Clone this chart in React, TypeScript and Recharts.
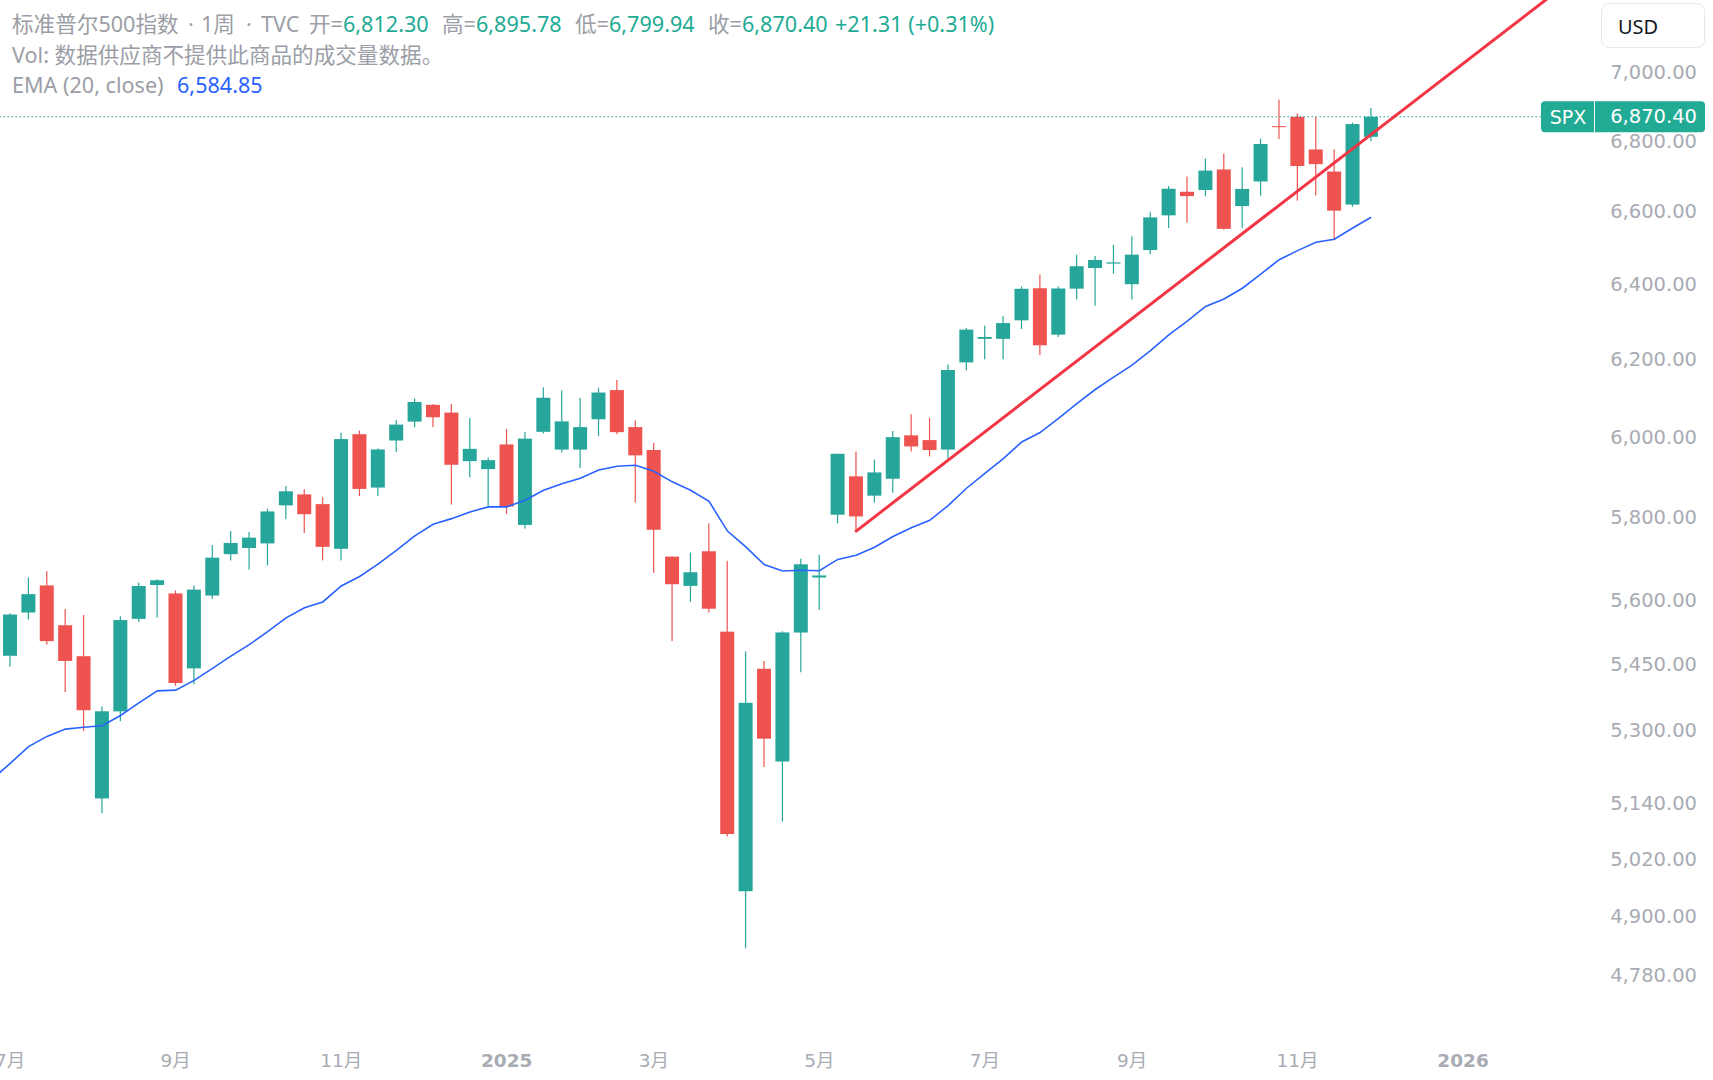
import React from 'react';
import {
  ComposedChart,
  Bar,
  Line,
  XAxis,
  YAxis,
  ReferenceLine,
} from 'recharts';

// Weekly bars of the S&P 500 index (TVC:SPX), one per week start (Monday).
// The first slot is the week before the first drawn bar; only its EMA point is
// used, so the average line runs in from the left edge.
const weekStarts = [
  '2024-06-24',
  '2024-07-01', '2024-07-08', '2024-07-15', '2024-07-22', '2024-07-29', '2024-08-05', '2024-08-12', '2024-08-19',
  '2024-08-26', '2024-09-02', '2024-09-09', '2024-09-16', '2024-09-23', '2024-09-30', '2024-10-07', '2024-10-14',
  '2024-10-21', '2024-10-28', '2024-11-04', '2024-11-11', '2024-11-18', '2024-11-25', '2024-12-02', '2024-12-09',
  '2024-12-16', '2024-12-23', '2024-12-30', '2025-01-06', '2025-01-13', '2025-01-20', '2025-01-27', '2025-02-03',
  '2025-02-10', '2025-02-17', '2025-02-24', '2025-03-03', '2025-03-10', '2025-03-17', '2025-03-24', '2025-03-31',
  '2025-04-07', '2025-04-14', '2025-04-21', '2025-04-28', '2025-05-05', '2025-05-12', '2025-05-19', '2025-05-26',
  '2025-06-02', '2025-06-09', '2025-06-16', '2025-06-23', '2025-06-30', '2025-07-07', '2025-07-14', '2025-07-21',
  '2025-07-28', '2025-08-04', '2025-08-11', '2025-08-18', '2025-08-25', '2025-09-01', '2025-09-08', '2025-09-15',
  '2025-09-22', '2025-09-29', '2025-10-06', '2025-10-13', '2025-10-20', '2025-10-27', '2025-11-03', '2025-11-10',
  '2025-11-17', '2025-11-24', '2025-12-01',
  // empty slots to the right of the last bar
  '2025-12-08', '2025-12-15', '2025-12-22', '2025-12-29', '2026-01-05', '2026-01-12', '2026-01-19', '2026-01-26',
  '2026-02-02', '2026-02-09', '2026-02-16', '2026-02-23',
];

// OHLC of the drawn bars, starting with the week of 2024-07-01
const opens = [
  5471, 5572, 5636, 5542, 5470, 5151, 5344, 5557, 5637, 5617, 5442, 5612, 5711, 5726, 5737, 5830,
  5857, 5833, 5724, 6008, 5874, 5992, 6040, 6083, 6063, 5940, 5920, 5982, 5782, 6014, 5969, 5969,
  6046, 6121, 6026, 5968, 5705, 5635, 5718, 5527, 4953, 5441, 5232, 5525, 5655, 5807, 5902, 5854,
  5896, 6005, 5993, 5969, 6193, 6255, 6255, 6304, 6390, 6266, 6389, 6445, 6457, 6401, 6494, 6590,
  6656, 6661, 6719, 6616, 6685, 6843, 6870, 6776, 6713, 6620, 6812.3,
];

const highs = [
  5570, 5655, 5670, 5580, 5566, 5355, 5563, 5643, 5651, 5624, 5636, 5733, 5767, 5765, 5822, 5878,
  5870, 5850, 6012, 6017, 5972, 6044, 6099, 6085, 6085, 6049, 5949, 6021, 6014, 6128, 6120, 6101,
  6127, 6147, 6043, 5986, 5706, 5715, 5786, 5695, 5481, 5459, 5528, 5700, 5710, 5959, 5964, 5944,
  6016, 6059, 6050, 6187, 6284, 6290, 6315, 6395, 6427, 6395, 6481, 6478, 6508, 6532, 6600, 6672,
  6699, 6750, 6764, 6725, 6807, 6920, 6880, 6870, 6776, 6853, 6895.78,
];

const lows = [
  5446, 5556, 5497, 5388, 5300, 5119, 5322, 5550, 5560, 5402, 5406, 5604, 5696, 5674, 5684, 5796,
  5762, 5696, 5696, 5853, 5853, 5963, 6026, 6026, 5832, 5900, 5829, 5809, 5773, 6010, 5962, 5923,
  6003, 6008, 5837, 5666, 5505, 5597, 5572, 5069, 4835, 5220, 5101, 5433, 5578, 5786, 5767, 5837,
  5861, 5964, 5952, 5943, 6172, 6201, 6201, 6281, 6212, 6260, 6360, 6343, 6430, 6360, 6482, 6555,
  6570, 6643, 6550, 6555, 6645, 6806, 6631, 6646, 6521, 6614, 6799.94,
];

const closes = [
  5567.19, 5615.35, 5505.0, 5459.1, 5346.56, 5344.16, 5554.25, 5634.61, 5648.4, 5408.42, 5626.02, 5702.55,
  5738.17, 5751.07, 5815.03, 5864.67, 5808.12, 5728.8, 5995.54, 5870.62, 5969.34, 6032.38, 6090.27, 6051.09,
  5930.85, 5970.84, 5942.47, 5827.04, 5996.66, 6101.24, 6040.53, 6025.99, 6114.63, 6013.13, 5954.5, 5770.2,
  5638.94, 5667.56, 5580.94, 5074.08, 5363.36, 5282.7, 5525.21, 5686.67, 5659.91, 5958.38, 5802.82, 5911.69,
  6000.36, 5976.97, 5967.84, 6173.07, 6279.35, 6259.75, 6296.79, 6388.64, 6238.01, 6389.45, 6449.8, 6466.91,
  6460.26, 6481.5, 6584.29, 6664.36, 6643.7, 6715.79, 6552.51, 6664.01, 6791.69, 6840.2, 6728.8, 6734.11,
  6602.99, 6849.09, 6870.4,
];

// EMA(20, close) per slot, starting with the lead-in week
const ema20 = [
  5192.0,
  5228.0, 5264.9, 5287.8, 5304.1, 5308.1, 5311.6, 5334.7, 5363.3, 5390.4, 5392.1, 5414.4, 5441.9,
  5470.1, 5496.8, 5527.1, 5559.3, 5583.0, 5596.9, 5634.8, 5657.3, 5687.0, 5719.9, 5755.2, 5783.4,
  5797.4, 5813.9, 5826.2, 5826.3, 5842.5, 5867.1, 5883.7, 5897.2, 5917.9, 5927.0, 5929.6, 5914.4,
  5888.2, 5867.2, 5839.9, 5767.0, 5728.5, 5686.1, 5670.7, 5672.3, 5671.1, 5698.4, 5708.4, 5727.7,
  5753.7, 5774.9, 5793.3, 5829.5, 5872.3, 5909.2, 5946.1, 5988.3, 6012.1, 6048.0, 6086.3, 6122.5,
  6154.7, 6185.8, 6223.8, 6265.7, 6301.7, 6341.2, 6361.3, 6390.1, 6428.4, 6467.6, 6492.5, 6515.5,
  6523.8, 6554.8, 6584.85,
];

// Hand-drawn trend line: anchored at the May 19 low, extended as a ray
const trendWeeks = ['2025-05-19', '2026-02-23'];
const trendPrices = [5767, 7327];

const priceTicks = [4780, 4900, 5020, 5140, 5300, 5450, 5600, 5800, 6000, 6200, 6400, 6600, 6800, 7000];

const timeTickWeeks = [
  '2024-07-01', '2024-09-02', '2024-11-04', '2025-01-06', '2025-03-03',
  '2025-05-05', '2025-07-07', '2025-09-01', '2025-11-03', '2026-01-05',
];
const timeTickLabels = ['7月', '9月', '11月', '2025', '3月', '5月', '7月', '9月', '11月', '2026'];

const UP = '#26a69a';
const DOWN = '#ef5350';
const TEXT_GREEN = '#22ab94';
const LABEL_GRAY = '#9b9ea6';
const AXIS_GRAY = '#a8abb3';
const EMA_BLUE = '#2962ff';
const TREND_RED = '#f23645';
const AXIS_FONT = "'DejaVu Sans', 'Noto Sans CJK SC', sans-serif";
const LEGEND_FONT = "'Noto Sans', 'Noto Sans CJK SC', sans-serif";

const LEAD = 1; // slots before the first bar

const rows = weekStarts.map((week, i) => {
  const b = i - LEAD;
  const hasBar = b >= 0 && b < closes.length;
  const t = trendWeeks.indexOf(week);
  return {
    week,
    open: hasBar ? opens[b] : undefined,
    high: hasBar ? highs[b] : undefined,
    low: hasBar ? lows[b] : undefined,
    close: hasBar ? closes[b] : undefined,
    range: hasBar ? [lows[b], highs[b]] : undefined,
    ema: i < ema20.length ? ema20[i] : undefined,
    trend: t >= 0 ? trendPrices[t] : undefined,
  };
});

const fmt = (v: number) =>
  v.toLocaleString('en-US', { minimumFractionDigits: 2, maximumFractionDigits: 2 });

const last = closes.length - 1;
const lastClose = closes[last];
const change = closes[last] - closes[last - 1];
const changePct = (change / closes[last - 1]) * 100;

// Candle drawn inside the [low, high] range bar; body edges are placed on the
// same log scale by interpolating between the bar's own high/low pixels.
const Candle = (props: any) => {
  const { x, y, width, height, payload } = props;
  if (!payload || payload.close == null || !isFinite(y) || !isFinite(height)) return null;
  const { open, close, high, low } = payload;
  const top = Math.min(y, y + height);
  const h = Math.abs(height);
  const lh = Math.log(high);
  const ll = Math.log(low);
  const py = (v: number) => top + (h * (lh - Math.log(v))) / (lh - ll);
  const color = close >= open ? UP : DOWN;
  const cx = x + width / 2;
  const bTop = Math.min(py(open), py(close));
  const bH = Math.max(1, Math.abs(py(open) - py(close)));
  return (
    <g>
      <rect x={cx - 0.6} y={top} width={1.2} height={h} fill={color} />
      <rect x={x} y={bTop} width={width} height={bH} fill={color} />
    </g>
  );
};

const PriceTick = (props: any) => {
  const { y, payload } = props;
  return (
    <text
      x={1697}
      y={y}
      textAnchor="end"
      dominantBaseline="central"
      fontFamily={AXIS_FONT}
      fontSize={19.5}
      fill={AXIS_GRAY}
    >
      {fmt(payload.value)}
    </text>
  );
};

const TimeTick = (props: any) => {
  const { x, payload } = props;
  const k = timeTickWeeks.indexOf(payload.value);
  if (k < 0) return null;
  const label = timeTickLabels[k];
  const isYear = /^\d{4}$/.test(label);
  return (
    <text
      x={x}
      y={1060}
      textAnchor="middle"
      dominantBaseline="central"
      fontFamily={AXIS_FONT}
      fontSize={18.5}
      fontWeight={isYear ? 700 : 400}
      fill={AXIS_GRAY}
    >
      {label}
    </text>
  );
};

const PriceBadge = (props: any) => {
  const vb = props.viewBox || {};
  const cy = vb.y;
  if (cy == null) return null;
  return (
    <g>
      <rect x={1541} y={cy - 15.5} width={164} height={31} rx={4} fill={TEXT_GREEN} />
      <line x1={1594.5} x2={1594.5} y1={cy - 15.5} y2={cy + 15.5} stroke="#ffffff" strokeWidth={1} />
      <text
        x={1568}
        y={cy}
        textAnchor="middle"
        dominantBaseline="central"
        fontFamily={AXIS_FONT}
        fontSize={19}
        fill="#ffffff"
      >
        SPX
      </text>
      <text
        x={1697}
        y={cy}
        textAnchor="end"
        dominantBaseline="central"
        fontFamily={AXIS_FONT}
        fontSize={19.5}
        fill="#ffffff"
      >
        {fmt(lastClose)}
      </text>
    </g>
  );
};

const legendLine: React.CSSProperties = {
  position: 'absolute',
  left: 12,
  height: 30,
  lineHeight: '30px',
  fontFamily: LEGEND_FONT,
  fontSize: 21.6,
  whiteSpace: 'nowrap',
  color: LABEL_GRAY,
};

export default function App() {
  return (
    <div style={{ position: 'relative', width: 1713, height: 1080, background: '#ffffff', overflow: 'hidden' }}>
      <style>{'body{margin:0;overflow:hidden;background:#ffffff}'}</style>
      <ComposedChart
        width={1713}
        height={1080}
        data={rows}
        margin={{ top: 0, right: 0, bottom: 0, left: -17.4 }}
      >
        <XAxis
          dataKey="week"
          type="category"
          interval={0}
          height={40}
          tickLine={false}
          axisLine={false}
          tick={<TimeTick />}
        />
        <YAxis
          orientation="right"
          scale="log"
          domain={[4651.2, 7217.7]}
          allowDataOverflow
          ticks={priceTicks}
          width={112}
          tickLine={false}
          axisLine={false}
          tick={<PriceTick />}
        />
        <ReferenceLine
          y={lastClose}
          stroke={TEXT_GREEN}
          strokeWidth={1}
          strokeDasharray="1.5 2.5"
          label={(p: any) => <PriceBadge {...p} />}
        />
        <Bar dataKey="range" barSize={14} shape={<Candle />} isAnimationActive={false} />
        <Line
          type="linear"
          dataKey="ema"
          stroke={EMA_BLUE}
          strokeWidth={1.6}
          dot={false}
          activeDot={false}
          isAnimationActive={false}
        />
        <Line
          type="linear"
          dataKey="trend"
          stroke={TREND_RED}
          strokeWidth={3}
          strokeLinecap="round"
          connectNulls
          dot={false}
          activeDot={false}
          isAnimationActive={false}
        />
      </ComposedChart>

      {/* legend */}
      <div style={{ ...legendLine, top: 9 }}>
        <span style={{ position: 'absolute', left: 0 }}>标准普尔500指数</span>
        <span style={{ position: 'absolute', left: 176 }}>·</span>
        <span style={{ position: 'absolute', left: 189 }}>1周</span>
        <span style={{ position: 'absolute', left: 234 }}>·</span>
        <span style={{ position: 'absolute', left: 249 }}>TVC</span>
        <span style={{ position: 'absolute', left: 297 }}>
          开=<span style={{ color: TEXT_GREEN }}>{fmt(opens[last])}</span>
        </span>
        <span style={{ position: 'absolute', left: 430 }}>
          高=<span style={{ color: TEXT_GREEN }}>{fmt(highs[last])}</span>
        </span>
        <span style={{ position: 'absolute', left: 563 }}>
          低=<span style={{ color: TEXT_GREEN }}>{fmt(lows[last])}</span>
        </span>
        <span style={{ position: 'absolute', left: 696 }}>
          收=<span style={{ color: TEXT_GREEN }}>{fmt(closes[last])}</span>
        </span>
        <span style={{ position: 'absolute', left: 823, color: TEXT_GREEN }}>
          {(change >= 0 ? '+' : '') + fmt(change)} ({(changePct >= 0 ? '+' : '') + changePct.toFixed(2)}%)
        </span>
      </div>
      <div style={{ ...legendLine, top: 40 }}>Vol: 数据供应商不提供此商品的成交量数据。</div>
      <div style={{ ...legendLine, top: 70 }}>
        EMA (20, close)
        <span style={{ position: 'absolute', left: 165, color: EMA_BLUE }}>{fmt(ema20[ema20.length - 1])}</span>
      </div>

      {/* currency box */}
      <div
        style={{
          position: 'absolute',
          left: 1601,
          top: 3,
          width: 104,
          height: 45,
          border: '1px solid #e6e8ee',
          borderRadius: 8,
          background: '#ffffff',
          fontFamily: LEGEND_FONT,
          fontSize: 20,
          lineHeight: '45px',
          color: '#131722',
          paddingLeft: 16,
          boxSizing: 'border-box',
        }}
      >
        USD
      </div>
    </div>
  );
}
